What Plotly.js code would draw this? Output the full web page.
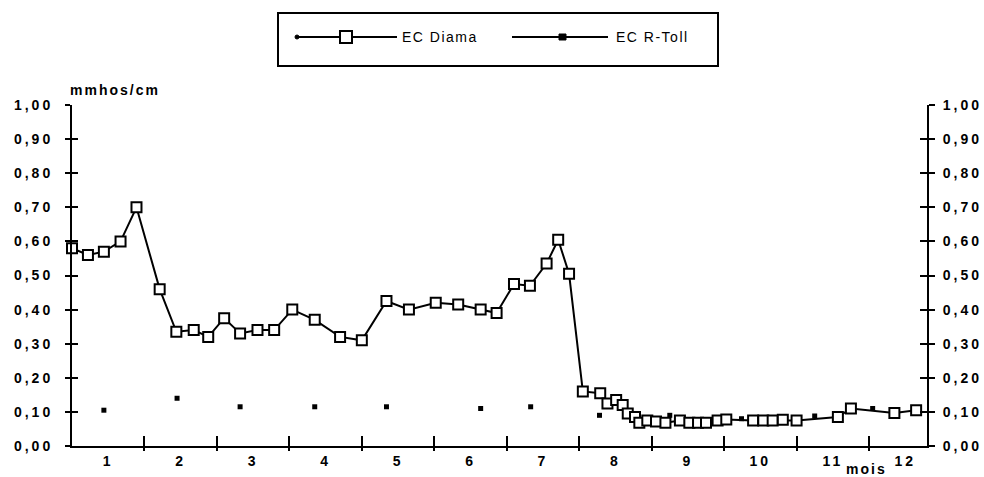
<!DOCTYPE html>
<html>
<head>
<meta charset="utf-8">
<script src="https://cdn.plot.ly/plotly-3.0.1.min.js"></script>
<style>
html,body{margin:0;padding:0;background:#fff;}
#chart{width:984px;height:477px;}
.xtick text, .ytick text, .y2tick text{letter-spacing:3px;}
</style>
</head>
<body>
<div id="chart"></div>
<script>
// ---- data ----
const monthLabels = ['1','2','3','4','5','6','7','8','9','10','11','12'];
const yTickLabels = ['0,00','0,10','0,20','0,30','0,40','0,50','0,60','0,70','0,80','0,90','1,00'];

const diamaX = [0.00,0.22,0.44,0.67,0.89,1.21,1.44,1.68,1.88,2.10,2.32,2.56,2.79,3.04,3.35,3.70,4.00,
  4.34,4.65,5.02,5.33,5.64,5.86,6.10,6.32,6.55,6.71,6.86,7.05,7.29,7.39,7.51,7.60,7.67,7.77,7.83,
  7.94,8.06,8.19,8.39,8.52,8.64,8.75,8.91,9.03,9.40,9.54,9.67,9.81,10.00,10.57,10.75,11.35,11.65];
const diamaY = [0.58,0.56,0.57,0.60,0.70,0.46,0.335,0.34,0.32,0.375,0.33,0.34,0.34,0.40,0.37,0.32,0.31,
  0.425,0.40,0.42,0.415,0.40,0.39,0.475,0.47,0.535,0.605,0.505,0.16,0.155,0.125,0.135,0.12,0.095,0.085,0.068,
  0.075,0.072,0.068,0.075,0.068,0.068,0.068,0.075,0.078,0.075,0.075,0.075,0.077,0.075,0.085,0.11,0.097,0.105];

const rtollX = [0.44,1.45,2.32,3.35,4.34,5.64,6.33,7.28,8.25,9.24,10.25,11.05];
const rtollY = [0.105,0.14,0.115,0.115,0.115,0.11,0.115,0.09,0.09,0.08,0.088,0.11];

// ---- layout helpers ----
const W = 984, H = 477;
const L = 72, R = 927, T = 105, B = 446;
const px = x => (x - L) / (R - L);
const py = y => (B - y) / (B - T);
const FONT = 'Liberation Sans, Arial, Helvetica, sans-serif';

const monthCenters = monthLabels.map((_, i) => i + 0.5);
const monthBounds = monthLabels.slice(1).map((_, i) => i + 1);
const yTickVals = yTickLabels.map((_, i) => i / 10);
const xRange = [0, 11.8];

const blank = (xa, ya) => ({x: [null], y: [null], xaxis: xa, yaxis: ya, type: 'scatter', mode: 'markers',
  showlegend: false, hoverinfo: 'skip'});

const traces = [
  blank('x2', 'y'), blank('x', 'y2'), blank('x', 'y3'), blank('x', 'y4'),
  {
    x: diamaX, y: diamaY, name: 'EC Diama', type: 'scatter', mode: 'lines+markers',
    line: {color: '#000', width: 2},
    marker: {symbol: 'square', size: 10, color: '#fff', line: {color: '#000', width: 2}},
    cliponaxis: false, showlegend: false, hoverinfo: 'skip'
  },
  {
    x: rtollX, y: rtollY, name: 'EC R-Toll', type: 'scatter', mode: 'markers',
    marker: {symbol: 'square', size: 5, color: '#000'},
    cliponaxis: false, showlegend: false, hoverinfo: 'skip'
  }
];

const tickFont = {family: FONT, size: 14, color: '#000', weight: 'bold'};

const shapes = [
  // legend box
  {type: 'rect', xref: 'paper', yref: 'paper', x0: px(278), x1: px(718), y0: py(13), y1: py(66),
   line: {color: '#000', width: 2}, fillcolor: 'rgba(0,0,0,0)'},
  // Diama legend line, dot and square
  {type: 'line', xref: 'paper', yref: 'paper', x0: px(297), x1: px(397), y0: py(37), y1: py(37),
   line: {color: '#000', width: 2}},
  {type: 'circle', xref: 'paper', yref: 'paper', x0: px(295), x1: px(299), y0: py(35), y1: py(39),
   line: {color: '#000', width: 1}, fillcolor: '#000'},
  {type: 'rect', xref: 'paper', yref: 'paper', x0: px(340), x1: px(352), y0: py(31), y1: py(43),
   line: {color: '#000', width: 2}, fillcolor: '#fff'},
  // R-Toll legend line and square
  {type: 'line', xref: 'paper', yref: 'paper', x0: px(512), x1: px(608), y0: py(37), y1: py(37),
   line: {color: '#000', width: 2}},
  {type: 'rect', xref: 'paper', yref: 'paper', x0: px(559), x1: px(566), y0: py(34), y1: py(40),
   line: {color: '#000', width: 1}, fillcolor: '#000'}
];

const sp = (t, s) => '<span style="letter-spacing:' + s + 'px">' + t + '</span>';

const annotations = [
  {text: sp('EC Diama', 1.5), xref: 'paper', yref: 'paper', x: px(400), y: py(37), xanchor: 'left', align: 'left',
   yanchor: 'middle', showarrow: false, font: {family: FONT, size: 14, color: '#000'}},
  {text: sp('EC R-Toll', 1.5), xref: 'paper', yref: 'paper', x: px(614), y: py(37), xanchor: 'left', align: 'left',
   yanchor: 'middle', showarrow: false, font: {family: FONT, size: 14, color: '#000'}},
  {text: sp('mmhos/cm', 2), xref: 'paper', yref: 'paper', x: px(68), y: py(90), xanchor: 'left', align: 'left',
   yanchor: 'middle', showarrow: false, font: {family: FONT, size: 14, color: '#000', weight: 'bold'}},
  {text: sp('mois', 2), xref: 'paper', yref: 'paper', x: px(844), y: py(469), xanchor: 'left', align: 'left',
   yanchor: 'middle', showarrow: false, font: {family: FONT, size: 14, color: '#000', weight: 'bold'}}
];

const layout = {
  width: W, height: H, autosize: false,
  margin: {l: L, r: W - R, t: T, b: H - B, pad: 0},
  paper_bgcolor: '#fff', plot_bgcolor: '#fff',
  separators: ', ',
  showlegend: false,
  xaxis: {
    range: xRange, showgrid: false, zeroline: false,
    showline: true, linecolor: '#000', linewidth: 2,
    tickmode: 'array', tickvals: monthCenters, ticktext: monthLabels, ticks: '',
    tickfont: tickFont, ticklabelstandoff: 1,
    minor: {tickmode: 'array', tickvals: monthBounds, ticks: 'inside', ticklen: 10, tickwidth: 2, tickcolor: '#000'}
  },
  xaxis2: {
    overlaying: 'x', anchor: 'y', side: 'bottom', range: xRange,
    showgrid: false, zeroline: false, showline: false, showticklabels: false,
    tickmode: 'array', tickvals: monthBounds, ticks: 'outside', ticklen: 4, tickwidth: 2, tickcolor: '#000'
  },
  yaxis: {
    range: [0, 1], showgrid: false, zeroline: false,
    showline: true, linecolor: '#000', linewidth: 2,
    tickmode: 'array', tickvals: yTickVals, ticktext: yTickLabels,
    ticks: 'outside', ticklen: 5, tickwidth: 2, tickcolor: '#000',
    tickfont: tickFont, ticklabelstandoff: 9
  },
  yaxis2: {
    overlaying: 'y', anchor: 'x', side: 'right', range: [0, 1], showgrid: false, zeroline: false,
    showline: true, linecolor: '#000', linewidth: 2,
    tickmode: 'array', tickvals: yTickVals, ticktext: yTickLabels,
    ticks: 'outside', ticklen: 6, tickwidth: 2, tickcolor: '#000',
    tickfont: tickFont, ticklabelstandoff: 5
  },
  yaxis3: {
    overlaying: 'y', anchor: 'x', side: 'left', range: [0, 1], showgrid: false, zeroline: false,
    showline: false, showticklabels: false,
    tickmode: 'array', tickvals: yTickVals, ticks: 'inside', ticklen: 6, tickwidth: 2, tickcolor: '#000'
  },
  yaxis4: {
    overlaying: 'y', anchor: 'x', side: 'right', range: [0, 1], showgrid: false, zeroline: false,
    showline: false, showticklabels: false,
    tickmode: 'array', tickvals: yTickVals, ticks: 'inside', ticklen: 7, tickwidth: 2, tickcolor: '#000'
  },
  shapes: shapes,
  annotations: annotations
};

Plotly.newPlot('chart', traces, layout, {staticPlot: true, displayModeBar: false});
</script>
</body>
</html>
